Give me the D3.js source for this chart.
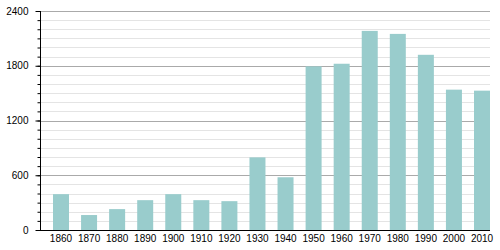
<!DOCTYPE html>
<html>
<head>
<meta charset="utf-8">
<script src="https://cdn.jsdelivr.net/npm/d3@7"></script>
<style>
body{margin:0;background:#fff;}
text{font-family:"Liberation Sans",Arial,sans-serif;font-size:10px;fill:#000;}
</style>
</head>
<body>
<div id="container"></div>
<script>
const years = ["1860","1870","1880","1890","1900","1910","1920","1930","1940","1950","1960","1970","1980","1990","2000","2010"]
const population = [393,164,229,327,393,327,316,796,578,1793,1822,2182,2149,1920,1538,1527]
const majorTicks = [0,600,1200,1800,2400]
const minorTicks = d3.range(0,2401,100)

const width = 500
const height = 250
const plotLeft = 40, plotRight = 490, plotTop = 11, plotBottom = 230

const svg = d3.select("#container").append("svg")
              .attr("width",width)
              .attr("height",height)

const x = d3.scaleBand()
.domain(years)
.range([53,490])
.paddingInner(0.43)
.paddingOuter(0)

const y = d3.scaleLinear()
.domain([0,2400])
.range([plotBottom,plotTop])

/*grid*/
svg.append("g")
   .selectAll("line")
   .data(minorTicks.filter(d=>d%600!==0))
   .enter()
   .append("line")
   .attr("x1",plotLeft).attr("x2",plotRight)
   .attr("y1",d=>Math.round(y(d))+0.5).attr("y2",d=>Math.round(y(d))+0.5)
   .attr("stroke","#e4e4e4")

svg.append("g")
   .selectAll("line")
   .data(majorTicks.filter(d=>d>0))
   .enter()
   .append("line")
   .attr("x1",plotLeft).attr("x2",plotRight)
   .attr("y1",d=>Math.round(y(d))+0.5).attr("y2",d=>Math.round(y(d))+0.5)
   .attr("stroke","#aaaaaa")

/*bars*/
svg.append("g")
   .selectAll("rect")
   .data(population)
   .enter()
   .append("rect")
   .attr("x",(d,i)=>x(years[i]))
   .attr("y",d=>y(d))
   .attr("width",x.bandwidth())
   .attr("height",d=>plotBottom-y(d))
   .attr("fill","#99cccc")

/*axes*/
const yMinor = d3.axisLeft(y).tickValues(minorTicks).tickSize(3).tickFormat("")
svg.append("g")
   .attr("transform",`translate(${plotLeft+0.5},0)`)
   .call(yMinor)
   .call(g=>g.select(".domain").remove())

const yAxis = d3.axisLeft(y).tickValues(majorTicks).tickSize(5).tickPadding(7).tickFormat(d3.format("d"))
svg.append("g")
   .attr("transform",`translate(${plotLeft+0.5},0)`)
   .call(yAxis)
   .call(g=>g.select(".domain").remove())
   .call(g=>g.selectAll("text").style("font-family","Liberation Sans, Arial").style("font-size","10px"))

svg.append("line")
   .attr("x1",plotLeft+0.5).attr("x2",plotLeft+0.5)
   .attr("y1",plotTop).attr("y2",plotBottom)
   .attr("stroke","#000")

const xAxis = d3.axisBottom(x).tickSize(0).tickPadding(5)
svg.append("g")
   .attr("transform",`translate(0,${plotBottom})`)
   .call(xAxis)
   .call(g=>g.select(".domain").remove())
   .call(g=>g.selectAll("text").style("font-family","Liberation Sans, Arial").style("font-size","10px"))

svg.append("line")
   .attr("x1",plotLeft).attr("x2",plotRight)
   .attr("y1",plotBottom+0.5).attr("y2",plotBottom+0.5)
   .attr("stroke","#000")
</script>
</body>
</html>
